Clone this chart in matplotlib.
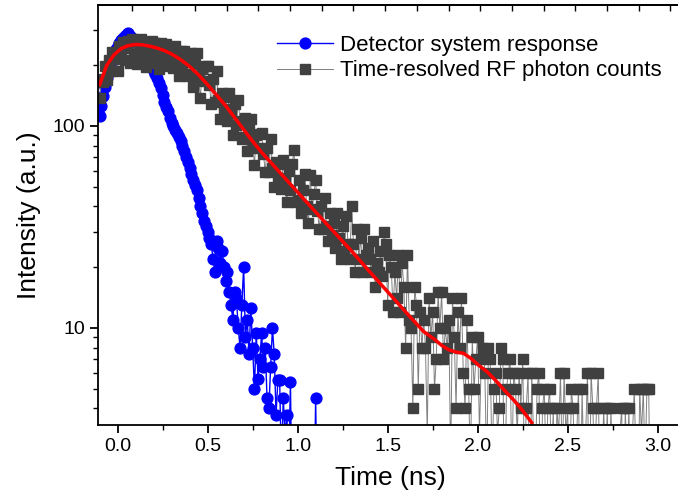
import numpy as np
import matplotlib
matplotlib.use("Agg")
import matplotlib.pyplot as plt

plt.rcParams['font.family'] = ['Liberation Sans', 'DejaVu Sans']

# time grid of the histograms (ns)
t_start = -0.10
t_step = 0.01

# detector system response (blue circles), one row per 0.1 ns
detector = [112, 125, 140, 156, 172, 186, 200, 214, 228, 240,
            250, 258, 266, 272, 278, 284, 288, 280, 272, 266,
            262, 255, 248, 242, 236, 229, 222, 212, 200, 194,
            188, 180, 172, 163, 155, 143, 132, 124, 118, 110,
            104, 100, 96, 92, 88, 84, 80, 75, 70, 66,
            62, 58, 54, 51, 48, 44, 40, 37, 34, 32,
            30, 28, 26, 22, 19, 27, 25, 21, 24, 20,
            17, 19, 15, 13, 11, 15, 14, 10, 8, 13,
            20, 9, 11, 7.4, 12.5, 8, 5, 9.4, 5.6, 7,
            9.4, 6.4, 8, 4.5, 4, 6.4, 10, 7.4, 3.7, 5.5,
            5.5, 2, 4.5, 3, 3.7, 2, 5.4, 1, 2, 1,
            1, 2, 1, 1, 2, 1, 1, 2, 1, 1,
            4.5, 1, 1]

# time-resolved RF photon counts (grey squares), one row per 0.1 ns
rf_counts = [138, 170, 166, 198, 168, 211, 187, 232, 214, 225,
             188, 248, 223, 260, 212, 244, 262, 206, 270, 227,
             263, 202, 243, 268, 222, 251, 195, 261, 228, 263,
             206, 258, 231, 191, 256, 212, 239, 255, 199, 224,
             245, 193, 248, 218, 176, 234, 197, 235, 207, 176,
             181, 229, 156, 202, 231, 172, 137, 192, 167, 197,
             198, 159, 128, 170, 131, 187, 135, 108, 145, 121,
             139, 106, 145, 116, 90, 128, 101, 135, 106, 86,
             88, 110, 75, 95, 108, 81, 64, 90, 78, 91,
             92, 73, 59, 78, 59, 86, 62, 50, 66, 55,
             65, 49, 68, 54, 42, 60, 48, 65, 76, 42,
             43, 54, 37, 48, 58, 40, 33, 57, 39, 46,
             54, 38, 31, 40, 31, 44, 32, 27, 37, 29,
             33, 25, 37, 28, 22, 32, 24, 36, 26, 22,
             40, 26, 19, 31, 22, 28, 19, 31, 23, 25,
             22, 19, 27, 16, 21, 19, 24, 18, 30, 26,
             13, 23, 20, 12, 19, 14, 23, 12, 21, 16,
             8, 23, 11, 10, 4, 16, 13, 5, 12, 8,
             11, 8, 3, 14, 9, 12, 5, 7, 15, 10,
             15, 7, 10, 8, 11, 2, 14, 9, 4, 12,
             8, 14, 6, 4, 11, 5, 2, 9, 5, 7,
             9, 3, 7, 8, 6, 2, 8, 7, 2, 5,
             6, 3, 4, 8, 7, 1, 5, 6, 7, 2,
             6, 5, 3, 6, 4, 7, 2, 4, 6, 1,
             6, 3, 2, 5, 6, 1, 4, 5, 2, 4,
             5, 2, 4, 1, 4, 3, 6, 2, 6, 3,
             4, 1, 5, 4, 2, 3, 5, 1, 5, 2,
             3, 6, 1, 6, 4, 2, 4, 6, 1, 2,
             4, 2, 4, 1, 4, 2, 3, 1, 2, 3,
             4, 1, 4, 2, 4, 1, 3, 5, 2, 1,
             5, 3, 5, 2, 5, 5, 1]

# fitted curve (red)
fit_t = [-0.10, -0.06, -0.02, 0.02, 0.06, 0.10, 0.14, 0.18, 0.22, 0.26,
         0.30, 0.35, 0.40, 0.45, 0.50, 0.55, 0.60, 0.65, 0.70, 0.75,
         0.80, 0.90, 1.00, 1.10, 1.20, 1.30, 1.40, 1.50, 1.60, 1.70,
         1.76, 1.80, 1.84, 1.88, 1.92, 1.96, 2.00, 2.05, 2.10, 2.15,
         2.20, 2.25, 2.30]
fit_v = [160, 200, 225, 242, 250, 253, 252, 248, 243, 236,
         227, 213, 197, 179, 160, 142, 126, 110, 96, 84,
         74, 59, 47, 37.5, 30, 24, 19, 15.1, 12, 9.6,
         8.8, 8.2, 7.8, 7.6, 7.5, 7.1, 6.6, 6.1, 5.5, 4.9,
         4.4, 3.9, 3.4]

t_det = t_start + t_step * np.arange(len(detector))
t_rf = t_start + t_step * np.arange(len(rf_counts))

fig = plt.figure(figsize=(6.78, 4.97), dpi=100)
ax = fig.add_axes([98 / 678, 72 / 497, 584 / 678, 420 / 497])

ax.plot(t_det, detector, '-o', color='#0000ff', lw=1.0, ms=7.8,
        label='Detector system response')
ax.plot(t_rf, rf_counts, '-s', color='#808080', lw=0.7, ms=7.2,
        mfc='#404040', mec='#404040', label='Time-resolved RF photon counts')
ax.plot(fit_t, fit_v, '-', color='#ff0000', lw=2.5)

ax.set_yscale('log')
ax.set_xticks([0.0, 0.5, 1.0, 1.5, 2.0, 2.5, 3.0])
ax.set_xticks([0.25, 0.75, 1.25, 1.75, 2.25, 2.75], minor=True)
ax.set_xticklabels(['0.0', '0.5', '1.0', '1.5', '2.0', '2.5', '3.0'])
ax.set_yticks([10, 100])
ax.set_yticklabels(['10', '100'])
ax.set_xlim(-0.109, 3.135)
ax.set_ylim(3.31, 397)

ax.tick_params(axis='both', which='major', labelsize=14, width=1.3,
               length=6, direction='out')
ax.tick_params(axis='both', which='minor', width=1.0, length=3.5,
               direction='out')
for s in ['left', 'bottom', 'top']:
    ax.spines[s].set_linewidth(1.3)
ax.spines['right'].set_visible(False)

# short inward ticks along the top border
top = ax.secondary_xaxis('top')
top.set_xticks(np.arange(0.078, 3.13, 0.176))
top.tick_params(direction='in', length=4, width=1.0, labeltop=False)
top.spines['top'].set_linewidth(1.3)

ax.set_xlabel('Time (ns)', fontsize=19, labelpad=8)
ax.set_ylabel('Intensity (a.u.)', fontsize=19, labelpad=8)

ax.legend(loc='upper left', bbox_to_anchor=(0.292, 0.95), frameon=False,
          fontsize=16, handlelength=2.5, handletextpad=0.3,
          labelspacing=0.2, borderaxespad=0.0)

fig.savefig('out.png', dpi=100)
